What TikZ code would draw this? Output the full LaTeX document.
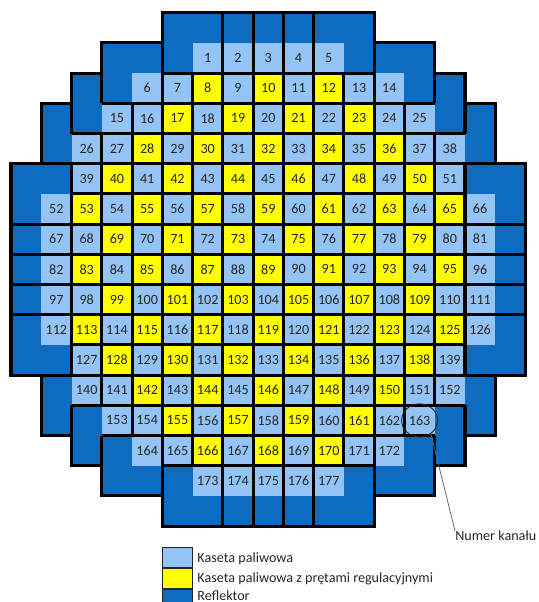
\documentclass[tikz,border=0pt]{standalone}
\usepackage{fontspec}
\setmainfont{Carlito}
\usetikzlibrary{positioning,shapes.geometric}
\definecolor{reflektor}{HTML}{0F6BC0}
\definecolor{paliwo}{HTML}{93C4F5}
\definecolor{pret}{HTML}{FFFF00}
\definecolor{ink}{HTML}{262626}

\begin{document}
\begin{tikzpicture}[
  x=22.7pt, y=-22.65pt,
  fuel/.style={fill=paliwo,minimum size=22.6pt,inner sep=0pt,text=ink,font=\fontsize{10.6}{12}\selectfont},
  rod/.style={fuel,fill=pret},
  wall/.style={line width=2.3pt,black},
  leg/.style={draw=ink,line width=0.9pt,minimum width=22.7pt,minimum height=15pt,inner sep=0pt},
  legtxt/.style={font=\fontsize{10.6}{12}\selectfont,text=ink,inner sep=0pt}]
  \useasboundingbox (-0.3635,-0.4205) rectangle (17.415,19.513);
  \draw[wall,fill=reflektor] (5,0) -- (5,1) -- (3,1) -- (3,2) -- (2,2) -- (2,3) -- (1,3) -- (1,5) -- (0,5) -- (0,12) -- (1,12) -- (1,14) -- (2,14) -- (2,15) -- (3,15) -- (3,16) -- (5,16) -- (5,17) -- (12,17) -- (12,16) -- (14,16) -- (14,15) -- (15,15) -- (15,14) -- (16,14) -- (16,12) -- (17,12) -- (17,5) -- (16,5) -- (16,3) -- (15,3) -- (15,2) -- (14,2) -- (14,1) -- (12,1) -- (12,0) -- cycle;
  \foreach \r/\fa/\fb/\ya/\yb/\s in {1/6/10/99/0/1,2/4/12/6/10/6,3/3/13/5/11/15,4/2/14/4/12/26,5/2/14/3/13/39,6/1/15/2/14/52,7/1/15/3/13/67,8/1/15/2/14/82,9/1/15/3/13/97,10/1/15/2/14/112,11/2/14/3/13/127,12/2/14/4/12/140,13/3/13/5/11/153,14/4/12/6/10/164,15/6/10/99/0/173}
    \foreach \c in {\fa,...,\fb} {
      \pgfmathtruncatemacro{\n}{\s+\c-\fa}
      \pgfmathtruncatemacro{\isrod}{and(and(\c>=\ya,\c<=\yb),mod(\r+\c,2)==0)}
      \ifnum\isrod=1 \def\kind{rod}\else\def\kind{fuel}\fi
      \node[\kind] (k\n) at (\c+0.5,\r+0.5) {\n};
    }
  \foreach \j/\p/\q in {2/5/12,3/3/14,4/2/15,5/0/17,6/2/15,7/0/17,8/0/17,9/0/17,10/0/17,11/2/15,12/0/17,13/2/15,14/3/14,15/5/12}
    \draw[wall] (\p,\j) -- (\q,\j);
  \foreach \i/\p/\q in {2/2/4,2/5/12,2/13/15,3/1/3,3/4/13,3/14/16,4/3/14,5/0/17,6/2/15,7/0/17,8/0/17,9/0/17,10/0/17,11/2/15,12/0/17,13/3/14,14/1/3,14/4/13,14/14/16,15/2/4,15/5/12,15/13/15}
    \draw[wall] (\i,\p) -- (\i,\q);
  \node[ellipse,draw=ink,line width=0.7pt,minimum width=27pt,minimum height=24.8pt,inner sep=0pt] (c163) at (k163) {};
  \node[legtxt,anchor=west] (numer) at (14.67,17.33) {Numer kanału};
  \draw[draw=black!60,line width=0.6pt] (c163.-50) -- (numer.north west);
  \node[leg,fill=paliwo] (leg1) at (5.5,18.03) {};
  \node[leg,fill=pret,below=0pt of leg1] (leg2) {};
  \node[leg,fill=reflektor,below=0pt of leg2] (leg3) {};
  \node[legtxt,right=3pt of leg1,yshift=-1.2pt] (txt1) {Kaseta paliwowa};
  \node[legtxt,right=3pt of leg2,yshift=-0.4pt] (txt2) {Kaseta paliwowa z prętami regulacyjnymi};
  \node[legtxt,right=3pt of leg3,yshift=3pt] (txt3) {Reflektor};
\end{tikzpicture}
\end{document}
